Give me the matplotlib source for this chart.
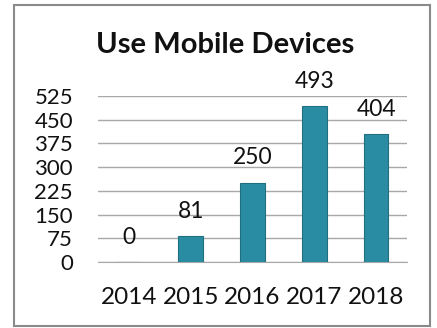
import matplotlib
matplotlib.use("Agg")
import matplotlib.pyplot as plt
from matplotlib.patches import Rectangle

years = ["2014", "2015", "2016", "2017", "2018"]
users = [0, 81, 250, 493, 404]
y_ticks = [0, 75, 150, 225, 300, 375, 450, 525]

plt.rcParams["font.family"] = ["Lato", "DejaVu Sans"]
text_color = "#111111"

fig = plt.figure(figsize=(4.37, 3.28), dpi=100)
fig.patch.set_facecolor("white")

# chart frame
fig.patches.append(Rectangle((14 / 437, 2 / 328), 416 / 437, 321 / 328,
                             transform=fig.transFigure, fill=False,
                             edgecolor="#8a8a8a", linewidth=1.5))

ax = fig.add_axes([98 / 437, 66 / 328, 309 / 437, 166 / 328])
x = range(len(years))
ax.bar(x, users, width=0.4, color="#2a8ca2", edgecolor="#1f6f81",
       linewidth=0.8, zorder=3)

for xi, v in zip(x, users):
    ax.annotate(str(v), (xi, v), xytext=(0, 18), textcoords="offset points",
                ha="center", va="center", fontsize=16.5, color=text_color)

ax.set_ylim(0, 525)
ax.set_xlim(-0.5, len(years) - 0.5)
ax.set_yticks(y_ticks)
ax.set_yticklabels([str(t) for t in y_ticks])
ax.set_xticks(list(x))
ax.set_xticklabels(years)
ax.yaxis.grid(True, color="#a8a8a8", linewidth=1.0, zorder=0)
ax.set_axisbelow(True)
for s in ["top", "right", "left"]:
    ax.spines[s].set_visible(False)
ax.spines["bottom"].set_color("#a8a8a8")
ax.tick_params(axis="y", length=0, pad=18, labelsize=16, colors=text_color)
ax.tick_params(axis="x", length=0, pad=18, labelsize=17.5, colors=text_color)

fig.text(225 / 437, 1 - 45 / 328, "Use Mobile Devices", ha="center",
         va="center", fontsize=21, fontweight="bold", color=text_color)

fig.savefig("out.png", dpi=100)
